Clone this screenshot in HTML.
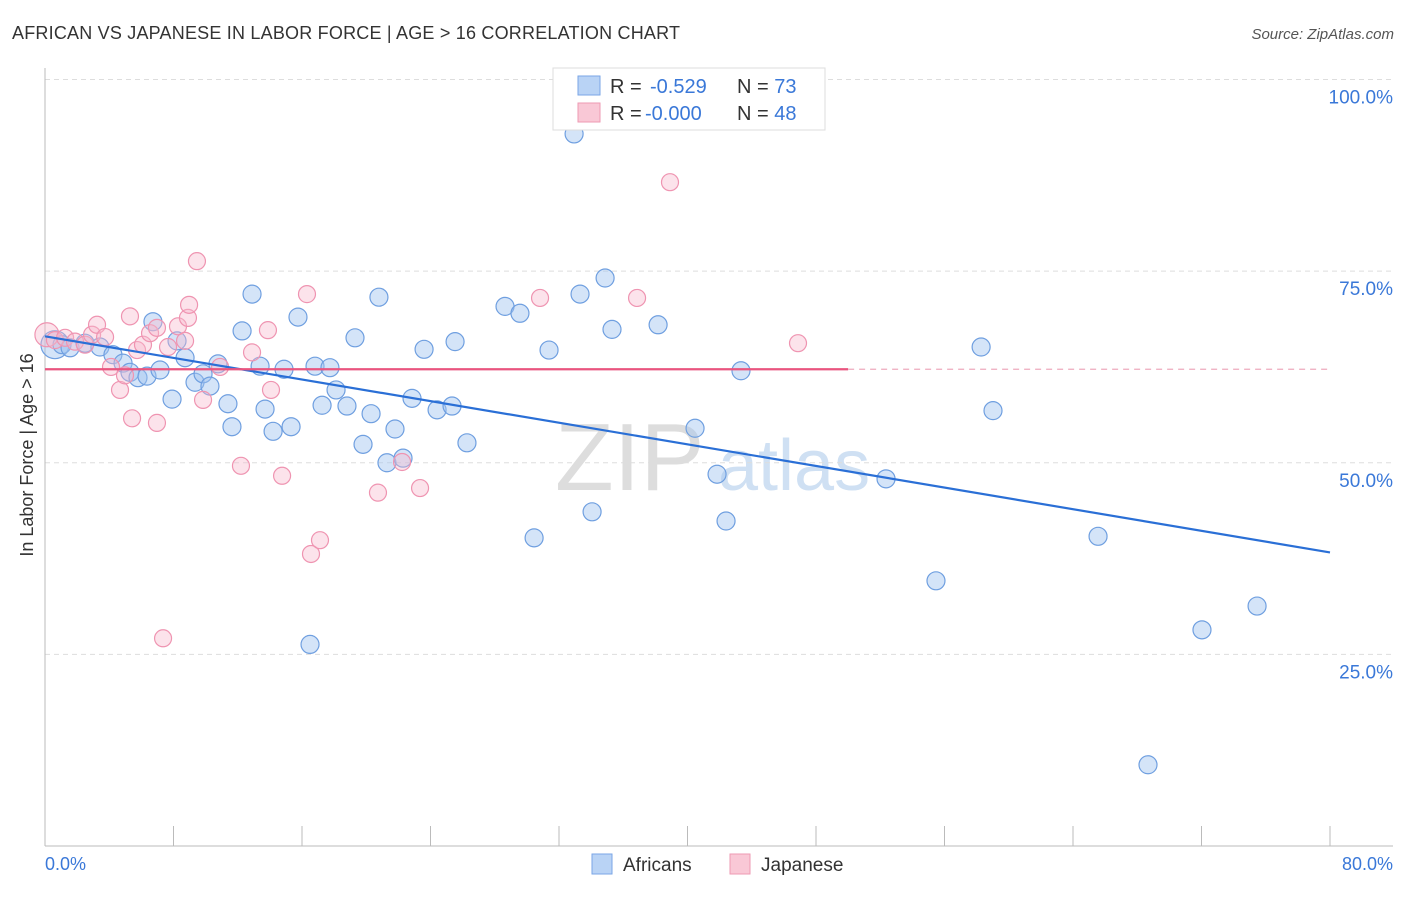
<!DOCTYPE html>
<html><head><meta charset="utf-8"><style>
body{margin:0;background:#fff;font-family:"Liberation Sans",sans-serif}
svg text{font-family:"Liberation Sans",sans-serif}
</style></head><body>
<svg width="1406" height="892" id="chart">
<text x="12" y="39" font-size="18" fill="#333" textLength="668">AFRICAN VS JAPANESE IN LABOR FORCE | AGE &gt; 16 CORRELATION CHART</text>
<text x="1394" y="39" font-size="15" fill="#555" font-style="italic" text-anchor="end">Source: ZipAtlas.com</text>
<text x="555" y="490" font-size="96" fill="#ddd" font-family="Liberation Serif">ZIP</text>
<text x="718" y="490" font-size="72" fill="#cfe0f3">atlas</text>
<g id="grid"></g><g id="axes"></g><g id="pts"></g><g id="lines"></g>
<text transform="translate(33,455) rotate(-90)" font-size="18" fill="#333" text-anchor="middle">In Labor Force | Age &gt; 16</text>
<text x="45" y="870" font-size="18" fill="#3a78d8">0.0%</text>
<text x="1393" y="870" font-size="18" fill="#3a78d8" text-anchor="end">80.0%</text>
<g>
<rect x="553" y="68" width="272" height="62" fill="#fff" stroke="#ddd"/>
<rect x="578" y="76" width="22" height="19" fill="#b9d3f5" stroke="#7aa6e6"/>
<rect x="578" y="103" width="22" height="19" fill="#f9c8d6" stroke="#ee9ab3"/>
<text x="610" y="93" font-size="20" fill="#333">R = <tspan x="650" fill="#3a78d8">-0.529</tspan><tspan x="737">N = </tspan><tspan fill="#3a78d8">73</tspan></text>
<text x="610" y="120" font-size="20" fill="#333">R = <tspan x="645" fill="#3a78d8">-0.000</tspan><tspan x="737">N = </tspan><tspan fill="#3a78d8">48</tspan></text>
</g>
<g>
<rect x="592" y="854" width="20" height="20" fill="#b9d3f5" stroke="#7aa6e6"/>
<text x="623" y="871" font-size="19" fill="#333">Africans</text>
<rect x="730" y="854" width="20" height="20" fill="#f9c8d6" stroke="#ee9ab3"/>
<text x="761" y="871" font-size="19" fill="#333">Japanese</text>
</g>
</svg>
<script>
const yTicks=[100,75,50,25];
const xTicks=[0,8,16,24,32,40,48,56,64,72,80];
const africans=[[0.62,65.4],[1.06,65.4],[1.56,65.0],[2.49,65.6],[3.42,65.1],[4.23,64.1],[4.86,63.0],[5.29,61.8],[5.79,61.1],[6.35,61.3],[6.72,68.4],[7.16,62.1],[7.91,58.3],[8.22,65.9],[8.72,63.7],[9.34,60.5],[9.84,61.6],[10.27,60.0],[10.77,62.9],[11.39,57.7],[11.64,54.7],[12.27,67.2],[12.89,72.0],[13.39,62.6],[13.70,57.0],[14.20,54.1],[14.88,62.2],[15.32,54.7],[15.75,69.0],[16.50,26.3],[16.81,62.6],[17.25,57.5],[17.74,62.4],[18.12,59.5],[18.80,57.4],[19.30,66.3],[19.80,52.4],[20.30,56.4],[20.79,71.6],[21.29,50.0],[21.79,54.4],[22.29,50.6],[22.85,58.4],[23.60,64.8],[24.41,56.9],[25.34,57.4],[25.53,65.8],[26.27,52.6],[28.64,70.4],[29.57,69.5],[30.45,40.2],[31.38,64.7],[32.94,92.9],[33.31,72.0],[34.06,43.6],[34.87,74.1],[35.30,67.4],[38.17,68.0],[40.47,54.5],[41.84,48.5],[42.40,42.4],[43.33,62.0],[52.36,47.9],[55.47,34.6],[58.28,65.1],[59.02,56.8],[65.56,40.4],[68.67,10.6],[72.03,28.2],[75.46,31.3]];
const japanese=[[0.12,66.7],[0.62,66.0],[1.25,66.3],[1.87,65.8],[2.49,65.4],[2.93,66.7],[3.24,68.0],[3.74,66.4],[4.11,62.5],[4.67,59.5],[4.98,61.4],[5.29,69.1],[5.42,55.8],[5.73,64.7],[6.10,65.4],[6.54,66.9],[6.97,67.6],[6.97,55.2],[7.35,27.1],[7.66,65.1],[8.28,67.8],[8.72,65.9],[8.90,68.9],[8.97,70.6],[9.46,76.3],[9.84,58.2],[10.90,62.5],[12.20,49.6],[12.89,64.4],[13.88,67.3],[14.07,59.5],[14.76,48.3],[16.31,72.0],[16.56,38.1],[17.12,39.9],[20.73,46.1],[22.23,50.1],[23.35,46.7],[30.82,71.5],[36.86,71.5],[38.91,86.6],[46.88,65.6]];
const africanTrend=[66.5,38.3];
const japaneseTrend=62.2;
const X=v=>45+v/80*1285, Y=v=>846-v/100*766.5;
const ns='http://www.w3.org/2000/svg';
function mk(p,t,a){const e=document.createElementNS(ns,t);for(const k in a)e.setAttribute(k,a[k]);document.getElementById(p).appendChild(e);return e;}
yTicks.forEach(t=>{
 const l=mk('grid','line',{x1:45,x2:1393,y1:Y(t),y2:Y(t),stroke:'#ddd','stroke-dasharray':'5,4'});
 
 
 const tx=mk('grid','text',{x:1393,y:Y(t)+24,'font-size':19,fill:'#3a78d8','text-anchor':'end'});
 tx.textContent=t.toFixed(1)+'%';
 
 
});
const ya=mk('axes','line',{x1:45,x2:45,y1:68,y2:846,stroke:'#bbb'});


const xa=mk('axes','line',{x1:45,x2:1393,y1:846,y2:846,stroke:'#bbb'});


xTicks.forEach(t=>{
 const l=mk('axes','line',{x1:X(t),x2:X(t),y1:826,y2:846,stroke:'#bbb'});
 
 
});
africans.forEach((d,i)=>{
 const c=mk('pts','circle',{cx:X(d[0]),cy:Y(d[1]),r:i==0?14:9,fill:'rgba(160,195,240,0.45)',stroke:'#6f9fe0','stroke-width':1.2});
 
 
});
japanese.forEach((d,i)=>{
 const c=mk('pts','circle',{cx:X(d[0]),cy:Y(d[1]),r:i==0?12:8.5,fill:'rgba(248,185,205,0.4)',stroke:'#ef94b1','stroke-width':1.2});
 
 
});
const bt=mk('lines','line',{x1:X(0),x2:X(80),y1:Y(africanTrend[0]),y2:Y(africanTrend[1]),stroke:'#2a6fd6','stroke-width':2.2});


const pt=mk('lines','line',{x1:X(0),x2:X(50),y1:Y(japaneseTrend),y2:Y(japaneseTrend),stroke:'#e9557f','stroke-width':2.2});


const pd=mk('lines','line',{x1:X(50),x2:X(80),y1:Y(japaneseTrend),y2:Y(japaneseTrend),stroke:'#eeaabd','stroke-width':1.2,'stroke-dasharray':'6,5'});


</script>
</body></html>
